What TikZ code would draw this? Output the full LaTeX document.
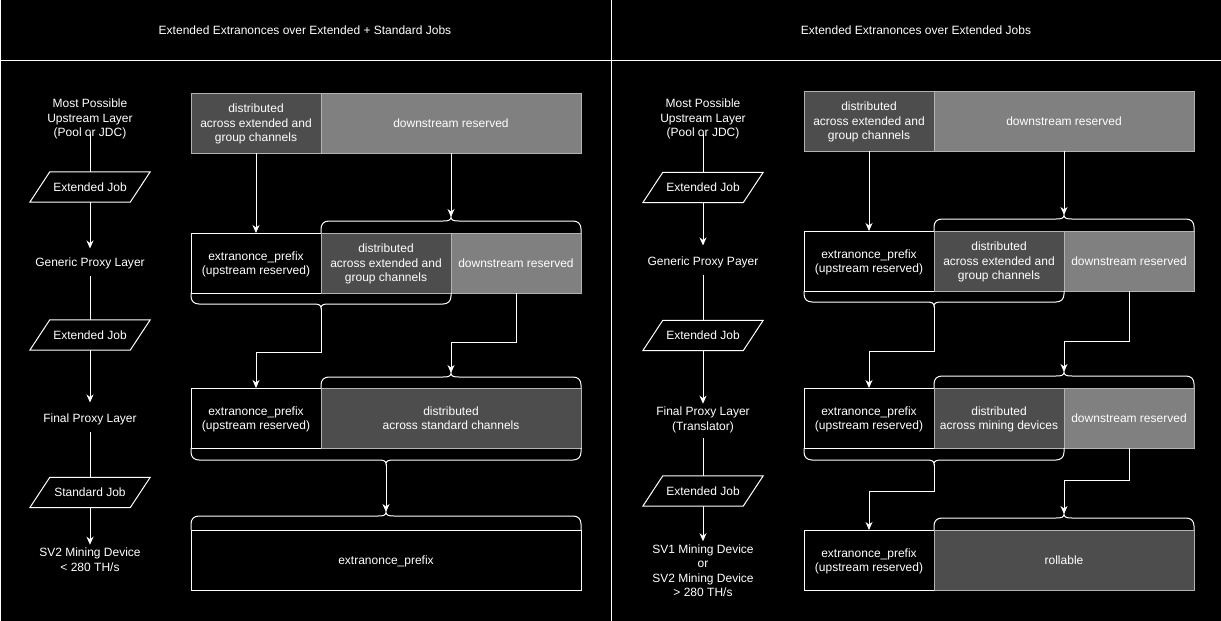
\documentclass[tikz,border=0pt]{standalone}
\usepackage{fontspec}
\setmainfont{Liberation Sans}
\usetikzlibrary{arrows.meta}

\definecolor{darkcell}{HTML}{4D4D4D}
\definecolor{graycell}{HTML}{808080}
\definecolor{cellline}{HTML}{B3B3B3}

% curly bracket: #1,#2 x-range, #3 edge y, #4 bracket line y, #5 direction (-1 up, 1 down), #6 tip name
\newcommand{\curly}[6]{%
  \pgfmathsetmacro{\cxm}{(#1+#2)/2}%
  \pgfmathsetmacro{\cyc}{#4-8*(#5)}%
  \pgfmathsetmacro{\cyk}{#4-3*(#5)}%
  \pgfmathsetmacro{\cyt}{#4+4*(#5)}%
  \pgfmathsetmacro{\cyq}{#4+1*(#5)}%
  \draw[bracket] (#1,#3) -- (#1,\cyc) .. controls (#1,\cyk) and (#1+3,#4) .. (#1+8,#4)
    -- (\cxm-8,#4) .. controls (\cxm-2,#4) and (\cxm,\cyq) .. (\cxm,\cyt)
    .. controls (\cxm,\cyq) and (\cxm+2,#4) .. (\cxm+8,#4)
    -- (#2-8,#4) .. controls (#2-3,#4) and (#2,\cyk) .. (#2,\cyc) -- (#2,#3);
  \coordinate (#6) at (\cxm,\cyt);%
}
% parallelogram outline around a job node
\newcommand{\jobshape}[1]{%
  \draw[line width=1pt,white] ([xshift=20pt]#1.north west) -- (#1.north east)
    -- ([xshift=-20pt]#1.south east) -- (#1.south west) -- cycle;%
}

\begin{document}
\begin{tikzpicture}[x=1pt,y=-1pt,
  every node/.style={text=white,font=\fontsize{12}{14.5}\selectfont,align=center,text depth=0pt},
  label/.style={inner sep=0pt},
  jobbox/.style={minimum width=120pt,minimum height=30pt,inner sep=0pt},
  cell/.style={anchor=north west,minimum height=60pt,minimum width=130pt,inner sep=0pt,outer sep=0pt,line width=1pt},
  blackcell/.style={cell,draw=white,fill=black},
  darkbox/.style={cell,draw=cellline,fill=darkcell},
  graybox/.style={cell,draw=cellline,fill=graycell},
  bracket/.style={draw=white,line width=1pt},
  link/.style={draw=white,line width=1pt},
  flow/.style={draw=white,line width=1pt,-{Stealth[length=8pt,width=7pt,inset=2.5pt]}}
]
\fill[black] (0,0) rectangle (1221,621);
\useasboundingbox (0,0) rectangle (1221,621);

% panel frames
\draw[white,line width=1pt] (0.5,0) -- (0.5,621);
\draw[white,line width=1pt] (611,0) -- (611,621);
\draw[white,line width=1pt] (0,60) -- (1221,60);

\node (ltitle) at (305,30) {Extended Extranonces over Extended + Standard Jobs};
\node (rtitle) at (916,30) {Extended Extranonces over Extended Jobs};

% ---------- left panel: layers ----------
\node[label] (lt1) at (90,118) {Most Possible\\Upstream Layer\\(Pool or JDC)};
\node[jobbox] (lj1) at (90,187) {Extended Job};
\node[label] (lt2) at (90,262) {Generic Proxy Layer};
\node[jobbox] (lj2) at (90,335) {Extended Job};
\node[label] (lt3) at (90,418) {Final Proxy Layer};
\node[jobbox] (lj3) at (90,492.5) {Standard Job};
\node[label] (lt4) at (90,559.5) {SV2 Mining Device\\< 280 TH/s};
\jobshape{lj1}\jobshape{lj2}\jobshape{lj3}

\draw[link] ([yshift=3.5pt]lt1.south) -- (lj1.north);
\draw[flow,shorten >=9pt] (lj1.south) -- (lt2.north);
\draw[link,shorten <=9pt] (lt2.south) -- (lj2.north);
\draw[flow,shorten >=11pt] (lj2.south) -- (lt3.north);
\draw[link,shorten <=9pt] (lt3.south) -- (lj3.north);
\draw[flow,shorten >=3pt] (lj3.south) -- (lt4.north);

% ---------- left panel: extranonce layouts ----------
\node[darkbox] (la1) at (191,93) {distributed\\across extended and\\group channels};
\node[graybox,minimum width=260pt] (la2) at (321,93) {downstream reserved};

\node[blackcell] (lb1) at (191,233) {extranonce\_prefix\\(upstream reserved)};
\node[darkbox] (lb2) at (321,233) {distributed\\across extended and\\group channels};
\node[graybox] (lb3) at (451,233) {downstream reserved};

\node[blackcell] (lc1) at (191,388) {extranonce\_prefix\\(upstream reserved)};
\node[darkbox,minimum width=260pt] (lc2) at (321,388) {distributed\\across standard channels};

\node[blackcell,minimum width=390pt] (ld1) at (191,530) {extranonce\_prefix};

\curly{321}{581}{233}{221}{-1}{tLb}
\curly{191}{451}{293}{304}{1}{tLbb}
\curly{321}{581}{388}{377}{-1}{tLc}
\curly{191}{581}{448}{460}{1}{tLcc}
\curly{191}{581}{530}{516}{-1}{tLd}

\draw[flow] (la1.south) -- (lb1.north);
\draw[flow] (la2.south) -- (tLb);
\draw[flow] (tLbb) -- ++(0,44) -| (lc1.north);
\draw[flow] (lb3.south) -- ++(0,49) -| (tLc);
\draw[flow] (tLcc) -- (tLd);

% ---------- right panel: layers ----------
\node[label] (rt1) at (703,118) {Most Possible\\Upstream Layer\\(Pool or JDC)};
\node[jobbox] (rj1) at (703,187.5) {Extended Job};
\node[label] (rt2) at (703,261) {Generic Proxy Payer};
\node[jobbox] (rj2) at (703,335.5) {Extended Job};
\node[label] (rt3) at (703,418.5) {Final Proxy Layer\\(Translator)};
\node[jobbox] (rj3) at (703,491) {Extended Job};
\node[label] (rt4) at (703,570.5) {SV1 Mining Device\\or\\SV2 Mining Device\\> 280 TH/s};
\jobshape{rj1}\jobshape{rj2}\jobshape{rj3}

\draw[link] ([yshift=3.5pt]rt1.south) -- (rj1.north);
\draw[flow,shorten >=11pt] (rj1.south) -- (rt2.north);
\draw[link,shorten <=9pt] (rt2.south) -- (rj2.north);
\draw[flow,shorten >=3pt] (rj2.south) -- (rt3.north);
\draw[link,shorten <=8pt] (rt3.south) -- (rj3.north);
\draw[flow,shorten >=3pt] (rj3.south) -- (rt4.north);

% ---------- right panel: extranonce layouts ----------
\node[darkbox] (ra1) at (804,91) {distributed\\across extended and\\group channels};
\node[graybox,minimum width=260pt] (ra2) at (934,91) {downstream reserved};

\node[blackcell] (rb1) at (804,231) {extranonce\_prefix\\(upstream reserved)};
\node[darkbox] (rb2) at (934,231) {distributed\\across extended and\\group channels};
\node[graybox] (rb3) at (1064,231) {downstream reserved};

\node[blackcell] (rc1) at (804,388) {extranonce\_prefix\\(upstream reserved)};
\node[darkbox] (rc2) at (934,388) {distributed\\across mining devices};
\node[graybox] (rc3) at (1064,388) {downstream reserved};

\node[blackcell] (rd1) at (804,530) {extranonce\_prefix\\(upstream reserved)};
\node[darkbox,minimum width=260pt] (rd2) at (934,530) {rollable};

\curly{934}{1194}{231}{219}{-1}{tRb}
\curly{804}{1064}{291}{302}{1}{tRbb}
\curly{934}{1194}{388}{376}{-1}{tRc}
\curly{804}{1064}{448}{460}{1}{tRcc}
\curly{934}{1194}{530}{518}{-1}{tRd}

\draw[flow] (ra1.south) -- (rb1.north);
\draw[flow] (ra2.south) -- (tRb);
\draw[flow] (tRbb) -- ++(0,45) -| (rc1.north);
\draw[flow] (rb3.south) -- ++(0,50) -| (tRc);
\draw[flow] (tRcc) -- ++(0,27) -| (rd1.north);
\draw[flow] (rc3.south) -- ++(0,32) -| (tRd);
\end{tikzpicture}
\end{document}
